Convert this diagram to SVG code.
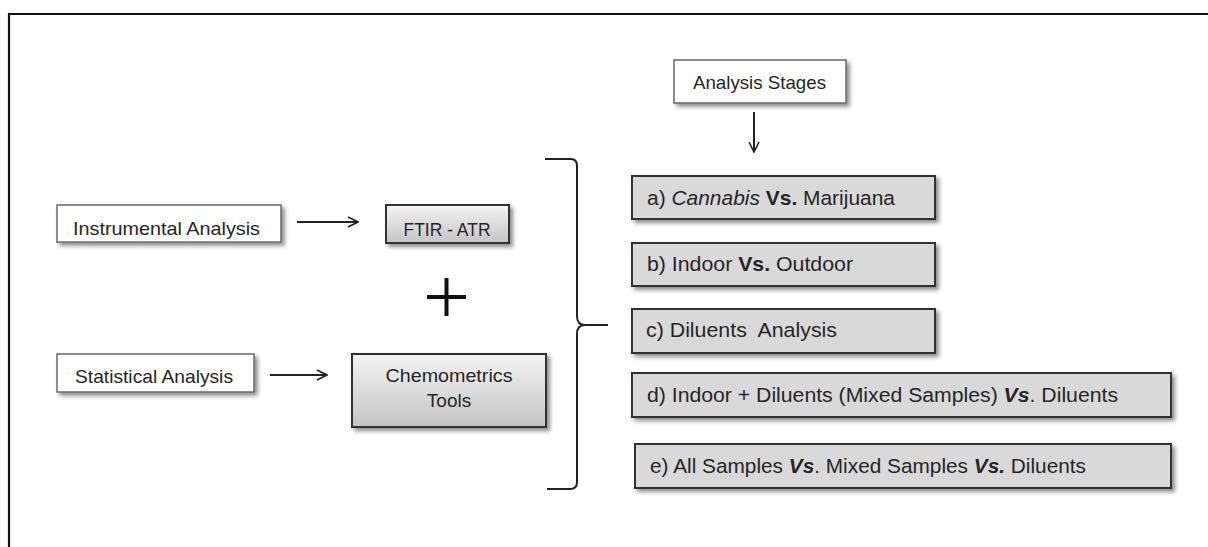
<svg xmlns="http://www.w3.org/2000/svg" width="1208" height="547" viewBox="0 0 1208 547">
<defs>
<filter id="sh" x="-10%" y="-20%" width="130%" height="160%">
<feDropShadow dx="3" dy="3" stdDeviation="2" flood-color="#000" flood-opacity="0.45"/>
</filter>
<linearGradient id="gr" x1="0" y1="0" x2="0" y2="1">
<stop offset="0" stop-color="#f4f4f4"/>
<stop offset="1" stop-color="#c4c4c4"/>
</linearGradient>
<marker id="ah" viewBox="0 0 12 12" refX="11" refY="6" markerWidth="12" markerHeight="12" markerUnits="userSpaceOnUse" orient="auto">
<path d="M1,1 L11,6 L1,11" fill="none" stroke="#222" stroke-width="1.6"/>
</marker>
<style>
text{font-family:"Liberation Sans",Arial,sans-serif;fill:#262626;white-space:pre;}
.w{fill:#fff;stroke:#6a6a6a;stroke-width:1.5;filter:url(#sh);}
.g{fill:url(#gr);stroke:#333;stroke-width:2;filter:url(#sh);}
.s{fill:#d9d9d9;stroke:#333;stroke-width:2;filter:url(#sh);}
.c{fill:none;stroke:#222;stroke-width:2;}
.l{font-size:19px;}
.r{font-size:20.5px;}
.b{font-weight:bold;}
.i{font-style:italic;}
</style>
</defs>
<path d="M9,547 L9,14 L1208,14" fill="none" stroke="#111" stroke-width="2.2"/>
<g id="instrumental">
<rect class="w" x="57" y="205" width="224" height="37"/>
<text class="l" x="73" y="235" textLength="187" lengthAdjust="spacingAndGlyphs">Instrumental Analysis</text>
</g>
<g id="ftir">
<rect class="g" x="386" y="205" width="123" height="38"/>
<text x="447" y="236" font-size="19" text-anchor="middle" textLength="87" lengthAdjust="spacingAndGlyphs">FTIR - ATR</text>
</g>
<g id="plus">
<path d="M427,297 H466 M446.5,278 V316" stroke="#111" stroke-width="4" fill="none"/>
</g>
<g id="statistical">
<rect class="w" x="57" y="354" width="197" height="38"/>
<text class="l" x="75" y="383" textLength="158" lengthAdjust="spacingAndGlyphs">Statistical Analysis</text>
</g>
<g id="chemometrics">
<rect class="g" x="352" y="354" width="194" height="73"/>
<text class="l" x="449" y="382" text-anchor="middle" textLength="127" lengthAdjust="spacingAndGlyphs">Chemometrics</text>
<text class="l" x="449" y="407" text-anchor="middle">Tools</text>
</g>
<g id="stages">
<rect class="w" x="674" y="60" width="172" height="43"/>
<text class="l" x="693" y="89" textLength="133" lengthAdjust="spacingAndGlyphs">Analysis Stages</text>
</g>
<g id="brace">
<path class="c" d="M545,159 H571 Q577,159 577,166 V316 Q577,325 585,325 H608 M585,325 Q577,325 577,334 V482 Q577,489 570,489 H547"/>
</g>
<g id="stage-a">
<rect class="s" x="632" y="176" width="303" height="43"/>
<text class="r" x="647" y="205" textLength="248" lengthAdjust="spacingAndGlyphs">a) <tspan class="i">Cannabis</tspan> <tspan class="b">Vs.</tspan> Marijuana</text>
</g>
<g id="stage-b">
<rect class="s" x="632" y="243" width="303" height="43"/>
<text class="r" x="647" y="271" textLength="206" lengthAdjust="spacingAndGlyphs">b) Indoor <tspan class="b">Vs.</tspan> Outdoor</text>
</g>
<g id="stage-c">
<rect class="s" x="632" y="309" width="303" height="44"/>
<text class="r" x="646" y="337" textLength="191" lengthAdjust="spacingAndGlyphs">c) Diluents  Analysis</text>
</g>
<g id="stage-d">
<rect class="s" x="632" y="373" width="539" height="44"/>
<text class="r" x="647" y="402" textLength="471" lengthAdjust="spacingAndGlyphs">d) Indoor + Diluents (Mixed Samples) <tspan class="b i">Vs</tspan>. Diluents</text>
</g>
<g id="stage-e">
<rect class="s" x="635" y="444" width="536" height="44"/>
<text class="r" x="650" y="473" textLength="436" lengthAdjust="spacingAndGlyphs">e) All Samples <tspan class="b i">Vs</tspan>. Mixed Samples <tspan class="b i">Vs.</tspan> Diluents</text>
</g>
<g id="connectors">
<line class="c" x1="297" y1="222" x2="358" y2="222" marker-end="url(#ah)"/>
<line class="c" x1="270" y1="375" x2="327" y2="375" marker-end="url(#ah)"/>
<line class="c" x1="754" y1="112" x2="754" y2="152" marker-end="url(#ah)"/>
</g>
</svg>
